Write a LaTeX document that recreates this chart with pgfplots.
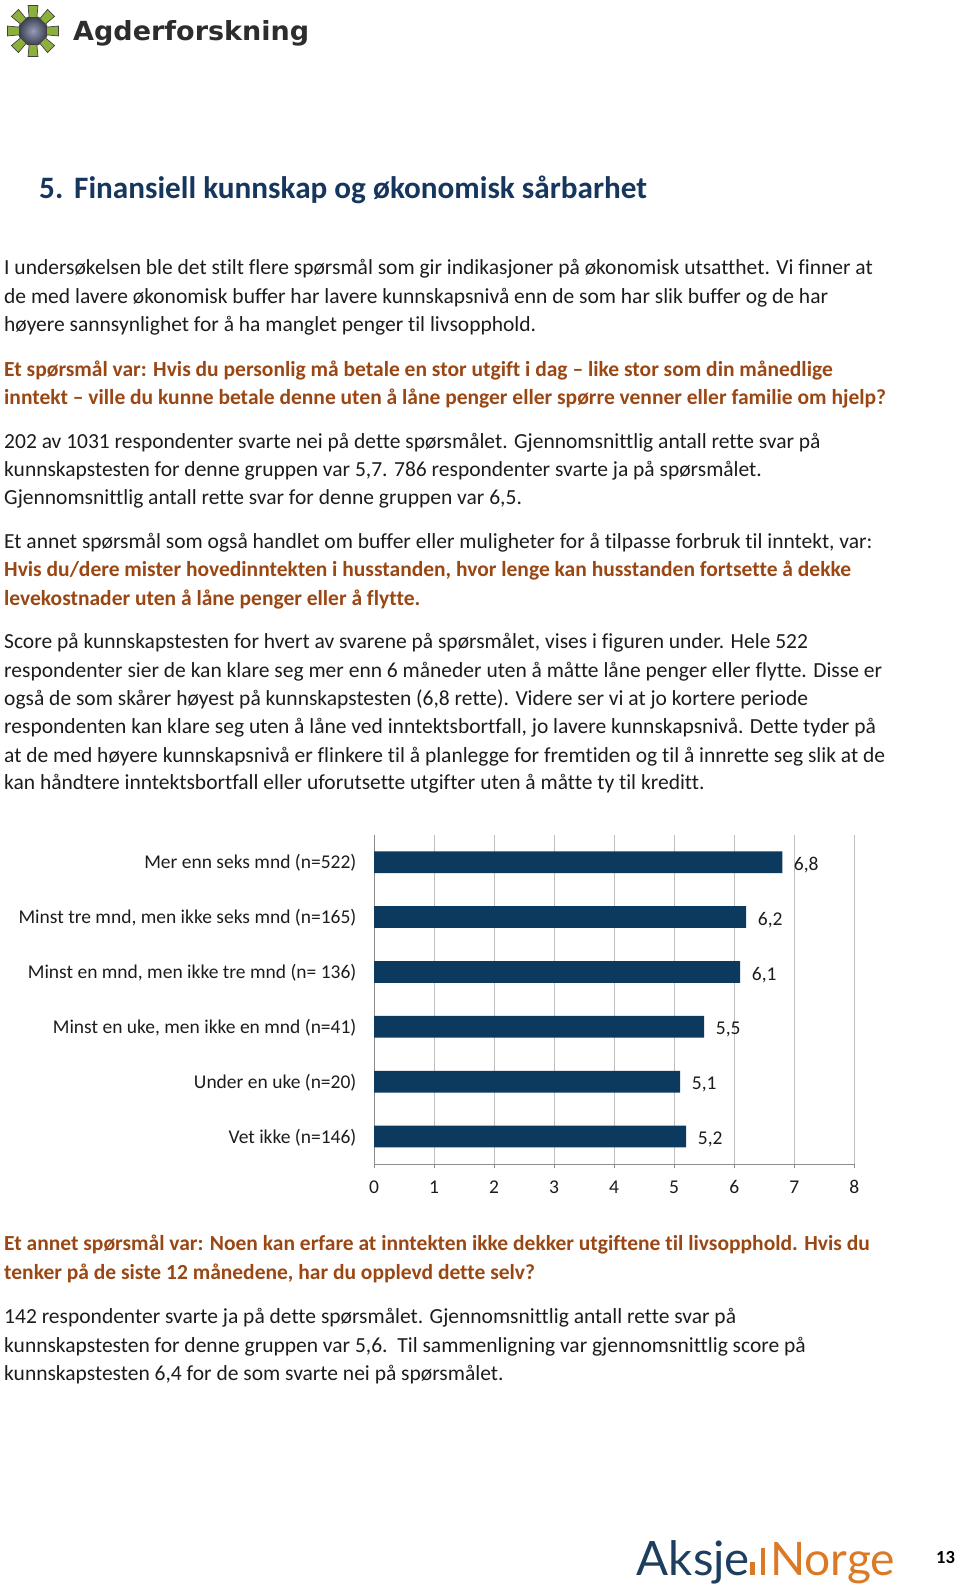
\documentclass[border=0pt]{standalone}
\usepackage{fontspec}
\setmainfont{Carlito}[Ligatures=NoCommon]
\newfontfamily\logofont{DejaVu Sans}
\newfontfamily\aksjefont{Lato}
\usepackage{pgfplots}
\pgfplotsset{compat=1.18}
\definecolor{headblue}{HTML}{17365D}
\definecolor{bodycol}{HTML}{1C1C1C}
\definecolor{redbold}{HTML}{9A4714}
\definecolor{barblue}{HTML}{0B3A5E}
\definecolor{gridgray}{HTML}{BFBFBF}
\definecolor{axgray}{HTML}{8C8C8C}
\definecolor{aksjeblue}{HTML}{1D3E5F}
\definecolor{aksjeorange}{HTML}{DB7A26}
\definecolor{logogreen}{HTML}{8DB03C}
\newcommand\bodyfont{\fontsize{21.5bp}{25bp}\selectfont}
\newcommand\chartfont{\fontsize{19.5bp}{23bp}\selectfont}
\tikzset{
  body/.style={anchor=base west, inner sep=0pt, text=bodycol, font=\bodyfont},
  redb/.style={anchor=base west, inner sep=0pt, text=redbold, font=\bodyfont\bfseries},
}
\begin{document}
\begin{tikzpicture}
\path (0bp,0bp) rectangle (960bp,-1590bp);
% --- Agderforskning logo ---
\shade[inner color={rgb,255:red,150;green,155;blue,185}, outer color={rgb,255:red,55;green,58;blue,72}] (33bp,-31bp) circle (15bp);
\foreach \a in {0,45,...,315}{
  \fill[logogreen, draw=black!75, line width=0.7bp]
    ([shift={(33bp,-31bp)}]\a-16:14bp) -- ([shift={(33bp,-31bp)}]\a-11:26bp) --
    ([shift={(33bp,-31bp)}]\a+11:26bp) -- ([shift={(33bp,-31bp)}]\a+16:14bp) -- cycle;
}
\node[anchor=base west, inner sep=0pt, text={rgb,255:red,45;green,45;blue,45}] at (73bp,-40bp)
  {\resizebox{236bp}{20bp}{\logofont\bfseries Agderforskning}};
% --- heading ---
\node[anchor=base west, inner sep=0pt, text=headblue, font=\fontsize{31.2bp}{34bp}\selectfont\bfseries] at (39bp,-198.3bp) {5.};
\node[anchor=base west, inner sep=0pt, text=headblue, font=\fontsize{31.2bp}{34bp}\selectfont\bfseries] at (74bp,-198.3bp) {Finansiell kunnskap og økonomisk sårbarhet};
% --- text ---
\node[body] at (4bp,-274.6bp) {I undersøkelsen ble det stilt flere spørsmål som gir indikasjoner på økonomisk utsatthet. Vi finner at};
\node[body] at (4bp,-303.0bp) {de med lavere økonomisk buffer har lavere kunnskapsnivå enn de som har slik buffer og de har};
\node[body] at (4bp,-331.4bp) {høyere sannsynlighet for å ha manglet penger til livsopphold.};
\node[redb] at (4bp,-376.0bp) {Et spørsmål var: Hvis du personlig må betale en stor utgift i dag – like stor som din månedlige};
\node[redb] at (4bp,-404.4bp) {inntekt – ville du kunne betale denne uten å låne penger eller spørre venner eller familie om hjelp?};
\node[body] at (4bp,-448.0bp) {202 av 1031 respondenter svarte nei på dette spørsmålet. Gjennomsnittlig antall rette svar på};
\node[body] at (4bp,-476.3bp) {kunnskapstesten for denne gruppen var 5,7. 786 respondenter svarte ja på spørsmålet.};
\node[body] at (4bp,-504.7bp) {Gjennomsnittlig antall rette svar for denne gruppen var 6,5.};
\node[body] at (4bp,-548.3bp) {Et annet spørsmål som også handlet om buffer eller muligheter for å tilpasse forbruk til inntekt, var:};
\node[redb] at (4bp,-576.7bp) {Hvis du/dere mister hovedinntekten i husstanden, hvor lenge kan husstanden fortsette å dekke};
\node[redb] at (4bp,-605.1bp) {levekostnader uten å låne penger eller å flytte.};
\node[body] at (4bp,-648.7bp) {Score på kunnskapstesten for hvert av svarene på spørsmålet, vises i figuren under. Hele 522};
\node[body] at (4bp,-677.1bp) {respondenter sier de kan klare seg mer enn 6 måneder uten å måtte låne penger eller flytte. Disse er};
\node[body] at (4bp,-705.4bp) {også de som skårer høyest på kunnskapstesten (6,8 rette). Videre ser vi at jo kortere periode};
\node[body] at (4bp,-733.8bp) {respondenten kan klare seg uten å låne ved inntektsbortfall, jo lavere kunnskapsnivå. Dette tyder på};
\node[body] at (4bp,-762.2bp) {at de med høyere kunnskapsnivå er flinkere til å planlegge for fremtiden og til å innrette seg slik at de};
\node[body] at (4bp,-789.6bp) {kan håndtere inntektsbortfall eller uforutsette utgifter uten å måtte ty til kreditt.};
\node[redb] at (4bp,-1250.8bp) {Et annet spørsmål var: Noen kan erfare at inntekten ikke dekker utgiftene til livsopphold. Hvis du};
\node[redb] at (4bp,-1279.2bp) {tenker på de siste 12 månedene, har du opplevd dette selv?};
\node[body] at (4bp,-1323.8bp) {142 respondenter svarte ja på dette spørsmålet. Gjennomsnittlig antall rette svar på};
\node[body] at (4bp,-1352.2bp) {kunnskapstesten for denne gruppen var 5,6.\ \ Til sammenligning var gjennomsnittlig score på};
\node[body] at (4bp,-1380.6bp) {kunnskapstesten 6,4 for de som svarte nei på spørsmålet.};
% --- chart ---
\begin{axis}[
  at={(374bp,-1164bp)}, anchor=south west,
  scale only axis, width=480.3bp, height=329.3bp,
  xbar, bar width=21.7bp,
  xmin=0, xmax=8, ymin=-0.5, ymax=5.5,
  axis lines*=left,
  axis line style={draw=axgray, line width=0.8bp, -},
  xtick={0,1,...,8},
  xmajorgrids, grid style={draw=gridgray, line width=0.8bp},
  tick align=outside, major tick length=4bp,
  xtick style={draw=axgray, line width=0.8bp},
  ytick={0,1,...,5},
  yticklabels={Vet ikke (n=146), Under en uke (n=20), {Minst en uke, men ikke en mnd (n=41)}, {Minst en mnd, men ikke tre mnd (n= 136)}, {Minst tre mnd, men ikke seks mnd (n=165)}, Mer enn seks mnd (n=522)},
  ytick style={draw=none},
  extra y ticks={-0.5,0.5,1.5,2.5,3.5,4.5,5.5},
  extra y tick labels={},
  extra y tick style={grid=none, tickwidth=7bp, tick style={draw=axgray, line width=0.8bp}},
  yticklabel style={font=\chartfont, text=bodycol, anchor=east, inner sep=0pt, xshift=-13.4bp, yshift=-1bp},
  xticklabel style={font=\chartfont, text=bodycol, yshift=-9bp},
  /pgf/number format/assume math mode=true,
  point meta=x,
  nodes near coords={\pgfmathprintnumber[use comma,fixed,fixed zerofill,precision=1,assume math mode=true]{\pgfplotspointmeta}},
  every node near coord/.append style={anchor=west, inner sep=0pt, xshift=11.5bp, yshift=-3bp, font=\chartfont, text=bodycol},
  clip=false,
]
\addplot[fill=barblue, draw=none] coordinates {(5.2,0) (5.1,1) (5.5,2) (6.1,3) (6.2,4) (6.8,5)};
\end{axis}
% --- footer ---
\fill[aksjeorange] (750bp,-1562bp) rectangle (754.5bp,-1575bp);
\fill[aksjeorange] (760.5bp,-1548bp) rectangle (765bp,-1575bp);
\node[anchor=base west, inner sep=0pt, text=aksjeblue] at (636.7bp,-1575bp) {\resizebox{113bp}{!}{\aksjefont Aksje}};
\node[anchor=base west, inner sep=0pt, text=aksjeorange] at (770bp,-1575bp) {\resizebox{125bp}{!}{\aksjefont Norge}};
\node[anchor=base west, inner sep=0pt, font=\fontsize{18.5bp}{20bp}\selectfont\bfseries] at (936bp,-1563bp) {13};
\end{tikzpicture}
\end{document}
